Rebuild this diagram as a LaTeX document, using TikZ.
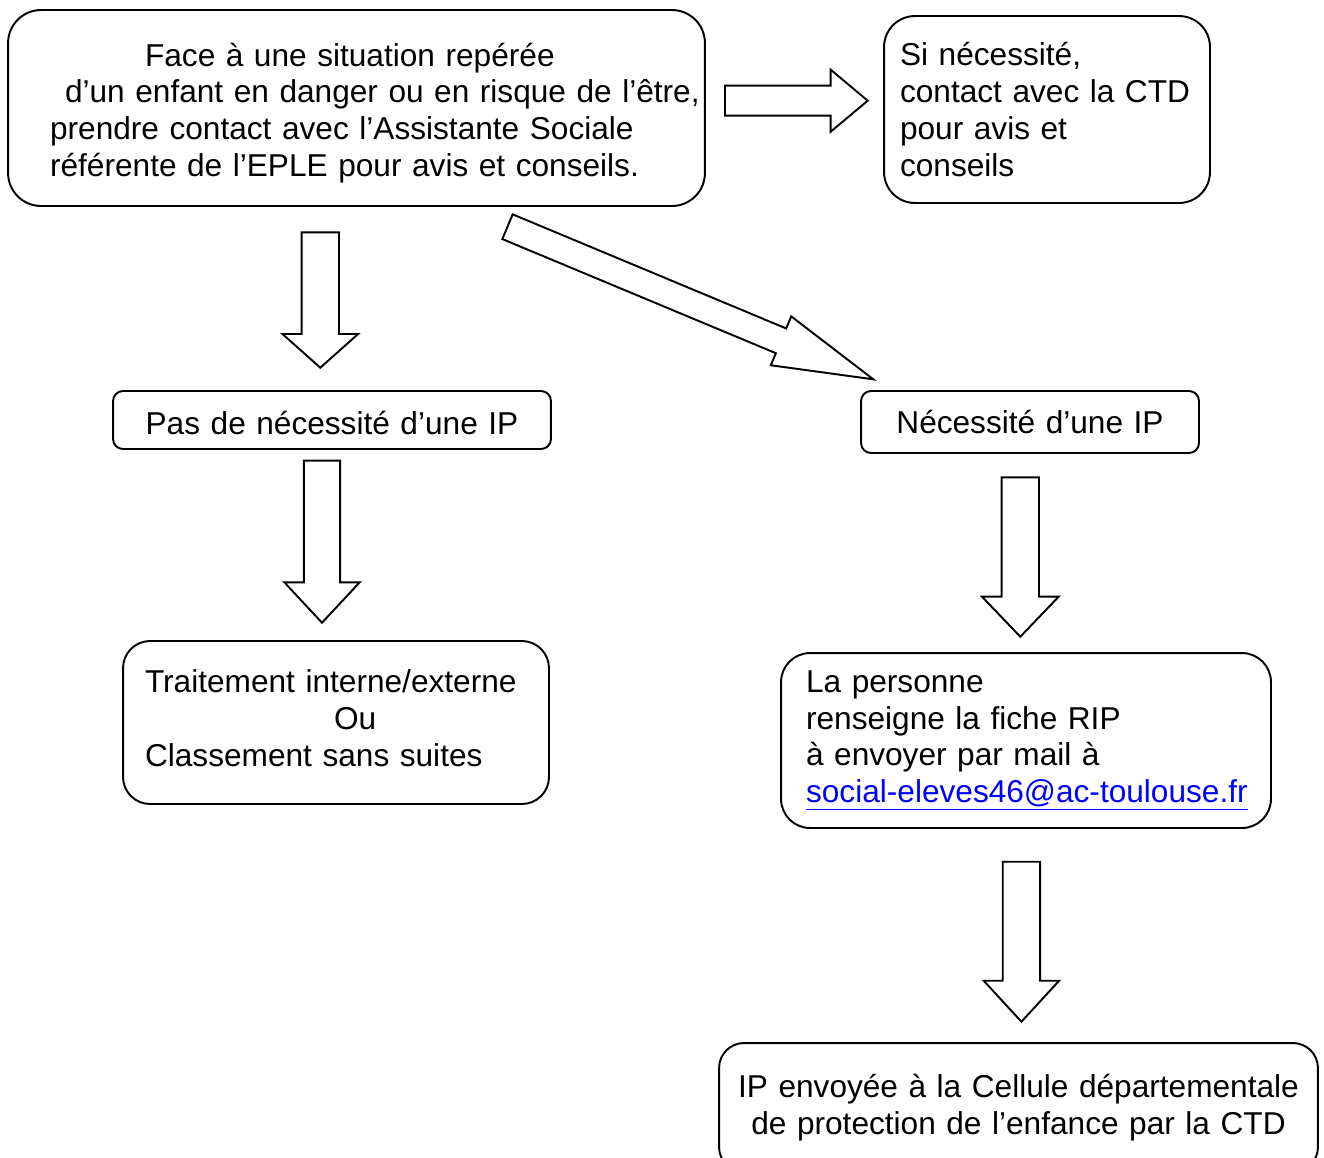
\documentclass[tikz,border=0pt]{standalone}
\usepackage{fontspec}
\setmainfont{Liberation Sans}
\usetikzlibrary{calc}

\definecolor{lien}{RGB}{0,0,255}
\def\unite{0.02cm}
\newcommand\police{\fontsize{18}{21}\selectfont\spaceskip .3333em\relax}

\tikzset{
    boite/.style = {draw, line width = 1.1pt, inner sep = 0pt, font = \police},
    fleche/.style = {draw, line width = 1.1pt, line join = miter, fill = white},
}

%% #1 depart, #2 pointe, #3 demi-tige, #4 demi-tete, #5 longueur tete
\newcommand\fleche[5]{%
    \coordinate (col) at ($(#2)!#5*\unite!(#1)$);
    \draw [fleche]
    ($(#1)!#3*\unite!90:(#2)$)
    -- ($(col)!#3*\unite!-90:(#1)$)
    -- ($(col)!#4*\unite!-90:(#1)$)
    -- (#2)
    -- ($(col)!#4*\unite!90:(#1)$)
    -- ($(col)!#3*\unite!90:(#1)$)
    -- ($(#1)!#3*\unite!-90:(#2)$)
    -- cycle
    ;
}

\begin{document}
\begin{tikzpicture}[x = 0.02cm, y = -0.02cm]
            \useasboundingbox (0,0) rectangle (1324,1157);

            \node [boite, rounded corners = 0.66cm, minimum width = 13.94cm,
                minimum height = 3.92cm]
            (situation) at (356.5,108)
            {\raisebox{-0.1cm}[\height][\depth]{\parbox{12.26cm}{%
             \mbox{\hspace*{1.9cm}Face à une situation repérée}\\
             \mbox{\hspace*{0.3cm}d’un enfant en danger ou en risque de l’être,}\\
             \mbox{prendre contact avec l’Assistante Sociale}\\
             \mbox{référente de l’EPLE pour avis et conseils.}}}};

            \node [boite, rounded corners = 0.62cm, minimum width = 6.52cm,
                minimum height = 3.74cm, text width = 5.88cm, align = left]
            (ctd) at (1047,109.5)
            {Si nécessité,\\ contact avec la CTD\\ pour avis et\\ conseils};

            \node [boite, rounded corners = 0.2cm, minimum width = 8.76cm,
                minimum height = 1.16cm, text height = 0.58cm]
            (pasip) at (332,420) {Pas de nécessité d’une IP};

            \node [boite, rounded corners = 0.2cm, minimum width = 6.76cm,
                minimum height = 1.24cm]
            (ip) at (1030,422) {Nécessité d’une IP};

            \node [boite, rounded corners = 0.54cm, minimum width = 8.52cm,
                minimum height = 3.26cm]
            (traitement) at (336,722.5)
            {\raisebox{0.08cm}[\height][\depth]{\parbox{7.64cm}{%
             Traitement interne/externe\\
             \hspace*{3.78cm}Ou\\
             Classement sans suites}}};

            \node [boite, rounded corners = 0.58cm, minimum width = 9.8cm,
                minimum height = 3.5cm, text width = 8.8cm, align = left]
            (fiche) at (1026,740.5)
            {La personne\\
             renseigne la fiche RIP\\
             à envoyer par mail à\\
             \mbox{\textcolor{lien}{\underline{social-eleves46@ac-toulouse.fr}}}};

            \node [boite, rounded corners = 0.5cm, minimum width = 11.98cm,
                minimum height = 2.58cm, align = center]
            (cellule) at (1018.5,1107.5)
            {IP envoyée à la Cellule départementale\\
             de protection de l’enfance par la CTD};

            %% fleches
            \coordinate (versctd) at (725,100.7);
            \coordinate (ctdpointe) at (867.7,100.7);
            \coordinate (versip) at (507.5,226.7);
            \coordinate (ippointe) at (873.3,379.3);
            \coordinate (verspasip) at (320.3,232.3);
            \coordinate (pasippointe) at (320.3,367.7);
            \coordinate (verstraitement) at (322,460.7);
            \coordinate (traitementpointe) at (322,622.7);
            \coordinate (versfiche) at (1020.3,477.3);
            \coordinate (fichepointe) at (1020.3,636.7);
            \coordinate (verscellule) at (1021.4,861.7);
            \coordinate (cellulepointe) at (1021.4,1021.7);

            \fleche{versctd}{ctdpointe}{15}{31}{37}
            \fleche{versip}{ippointe}{13.4}{26.5}{100}
            \fleche{verspasip}{pasippointe}{18.7}{37.8}{33.7}
            \fleche{verstraitement}{traitementpointe}{18.2}{37.7}{40.4}
            \fleche{versfiche}{fichepointe}{18.7}{38.3}{40}
            \fleche{verscellule}{cellulepointe}{18.7}{37.7}{41}
        \end{tikzpicture}
\end{document}
